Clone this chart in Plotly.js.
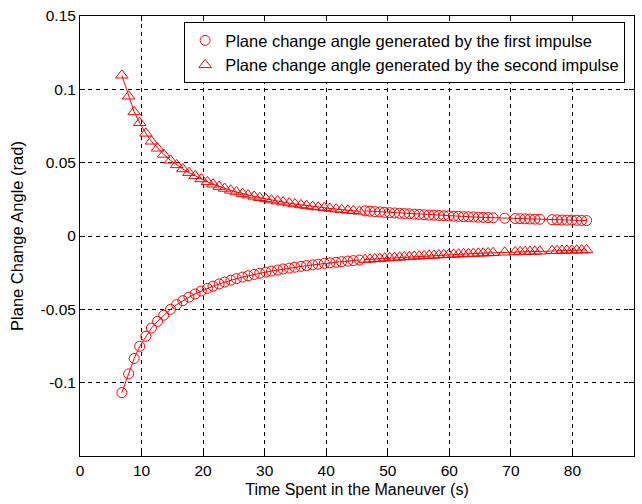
<!DOCTYPE html>
<html>
<head>
<meta charset="utf-8">
<script src="https://cdn.plot.ly/plotly-3.0.1.min.js"></script>
<style>html,body{margin:0;padding:0;background:#fff;}#chart{width:642px;height:504px;}</style>
</head>
<body>
<div id="chart"></div>
<script>
// Early segment (t < ~46 s)
var xEarly = [6.8, 7.9, 8.8, 9.7, 10.7, 11.6, 12.6, 13.6, 14.7, 15.7, 16.7, 17.7, 18.7, 19.7, 20.7, 21.6, 22.6, 23.5, 24.5, 25.4, 26.4, 27.3, 28.3, 29.2, 30.2, 31.1, 32.1, 33.0, 34.0, 34.9, 35.9, 36.8, 37.8, 38.7, 39.7, 40.6, 41.6, 42.5, 43.5, 44.4, 45.4];
var firstEarly = [-0.1068, -0.0940, -0.0835, -0.0752, -0.0684, -0.0628, -0.0582, -0.0540, -0.0500, -0.0468, -0.0441, -0.0417, -0.0395, -0.0375, -0.0357, -0.0342, -0.0327, -0.0314, -0.0301, -0.0291, -0.0280, -0.0271, -0.0262, -0.0254, -0.0246, -0.0239, -0.0232, -0.0225, -0.0219, -0.0213, -0.0207, -0.0202, -0.0197, -0.0192, -0.0187, -0.0183, -0.0179, -0.0175, -0.0171, -0.0168, -0.0164];
var secondEarly = [0.1096, 0.0953, 0.0846, 0.0772, 0.0700, 0.0646, 0.0598, 0.0556, 0.0516, 0.0485, 0.0457, 0.0432, 0.0410, 0.0389, 0.0369, 0.0353, 0.0337, 0.0324, 0.0311, 0.0300, 0.0289, 0.0279, 0.0270, 0.0261, 0.0253, 0.0245, 0.0238, 0.0231, 0.0224, 0.0218, 0.0212, 0.0207, 0.0201, 0.0197, 0.0192, 0.0188, 0.0183, 0.0179, 0.0175, 0.0172, 0.0168];
// Late segment (t > ~46 s)
var xLate = [46.3, 47.1, 47.9, 48.7, 49.5, 50.3, 51.1, 51.9, 52.7, 53.5, 54.3, 55.1, 55.9, 56.7, 57.5, 58.3, 59.1, 59.9, 60.7, 61.5, 62.3, 63.1, 63.9, 64.7, 65.5, 66.3, 67.1, 69.0, 70.7, 71.5, 72.3, 73.1, 73.9, 74.7, 76.7, 77.5, 78.3, 79.1, 79.9, 80.7, 81.5, 82.3];
var firstLate = [0.0171, 0.0169, 0.0166, 0.0164, 0.0161, 0.0159, 0.0157, 0.0155, 0.0153, 0.0151, 0.0149, 0.0147, 0.0145, 0.0143, 0.0142, 0.0140, 0.0138, 0.0137, 0.0135, 0.0134, 0.0132, 0.0131, 0.0130, 0.0128, 0.0127, 0.0126, 0.0124, 0.0121, 0.0119, 0.0118, 0.0117, 0.0116, 0.0115, 0.0114, 0.0111, 0.0110, 0.0109, 0.0108, 0.0108, 0.0107, 0.0106, 0.0105];
var secondLate = [-0.0161, -0.0159, -0.0156, -0.0154, -0.0151, -0.0149, -0.0147, -0.0145, -0.0143, -0.0141, -0.0139, -0.0137, -0.0135, -0.0133, -0.0132, -0.0130, -0.0128, -0.0127, -0.0125, -0.0124, -0.0122, -0.0121, -0.0120, -0.0118, -0.0117, -0.0116, -0.0114, -0.0111, -0.0109, -0.0108, -0.0107, -0.0106, -0.0105, -0.0104, -0.0101, -0.0100, -0.0099, -0.0098, -0.0098, -0.0097, -0.0096, -0.0095];

var yTickVals = [-0.1, -0.05, 0, 0.05, 0.1, 0.15];
var yTickText = ['-0.1', '-0.05', '0', '0.05', '0.1', '0.15'];
var xTickVals = [0, 10, 20, 30, 40, 50, 60, 70, 80, 90];

var xAll = xEarly.concat([null], xLate);
var yFirst = firstEarly.concat([null], firstLate);
var ySecond = secondEarly.concat([null], secondLate);

var red = '#ff0000';
var FONT = 'Liberation Sans, Arial, sans-serif';
var traces = [
  {x: xAll, y: yFirst, mode: 'lines', line: {color: red, width: 1}, showlegend: false, hoverinfo: 'skip', connectgaps: false},
  {x: xAll, y: ySecond, mode: 'lines', line: {color: red, width: 1}, showlegend: false, hoverinfo: 'skip', connectgaps: false},
  {x: xAll, y: yFirst, mode: 'markers', name: 'Plane change angle generated by the first impulse',
   marker: {symbol: 'circle-open', size: 10, color: red, line: {color: red, width: 1}}},
  {x: xAll, y: ySecond, mode: 'markers', name: 'Plane change angle generated by the second impulse',
   marker: {symbol: 'triangle-up-open', size: 11, color: red, line: {color: red, width: 1}}}
];

var axisCommon = {
  showline: true, linecolor: '#000', linewidth: 1, mirror: 'ticks',
  ticks: 'inside', ticklen: 5, tickcolor: '#000', tickwidth: 1,
  showgrid: true, gridcolor: '#000', gridwidth: 1, griddash: '4px,4px',
  zeroline: false, tickfont: {family: FONT, size: 15.5, color: '#000'}
};

var layout = {
  width: 642, height: 504,
  margin: {l: 80, r: 8, t: 16, b: 48},
  paper_bgcolor: '#fff', plot_bgcolor: '#fff',
  font: {family: FONT, size: 16, color: '#000'},
  xaxis: Object.assign({}, axisCommon, {
    range: [0, 90], tickvals: xTickVals,
    title: {text: 'Time Spent in the Maneuver (s)', font: {family: FONT, size: 16}, standoff: 6}
  }),
  yaxis: Object.assign({}, axisCommon, {
    range: [-0.15, 0.15], tickvals: yTickVals, ticktext: yTickText,
    title: {text: 'Plane Change Angle (rad)', font: {family: FONT, size: 16.5}, standoff: 12}
  }),
  legend: {
    x: 0.984, y: 0.986, xanchor: 'right', yanchor: 'top',
    bgcolor: '#fff', bordercolor: '#000', borderwidth: 1,
    font: {family: FONT, size: 16.5, color: '#000'}, tracegroupgap: 0
  },
  showlegend: true
};

Plotly.newPlot('chart', traces, layout, {staticPlot: true, displayModeBar: false});
</script>
</body>
</html>
